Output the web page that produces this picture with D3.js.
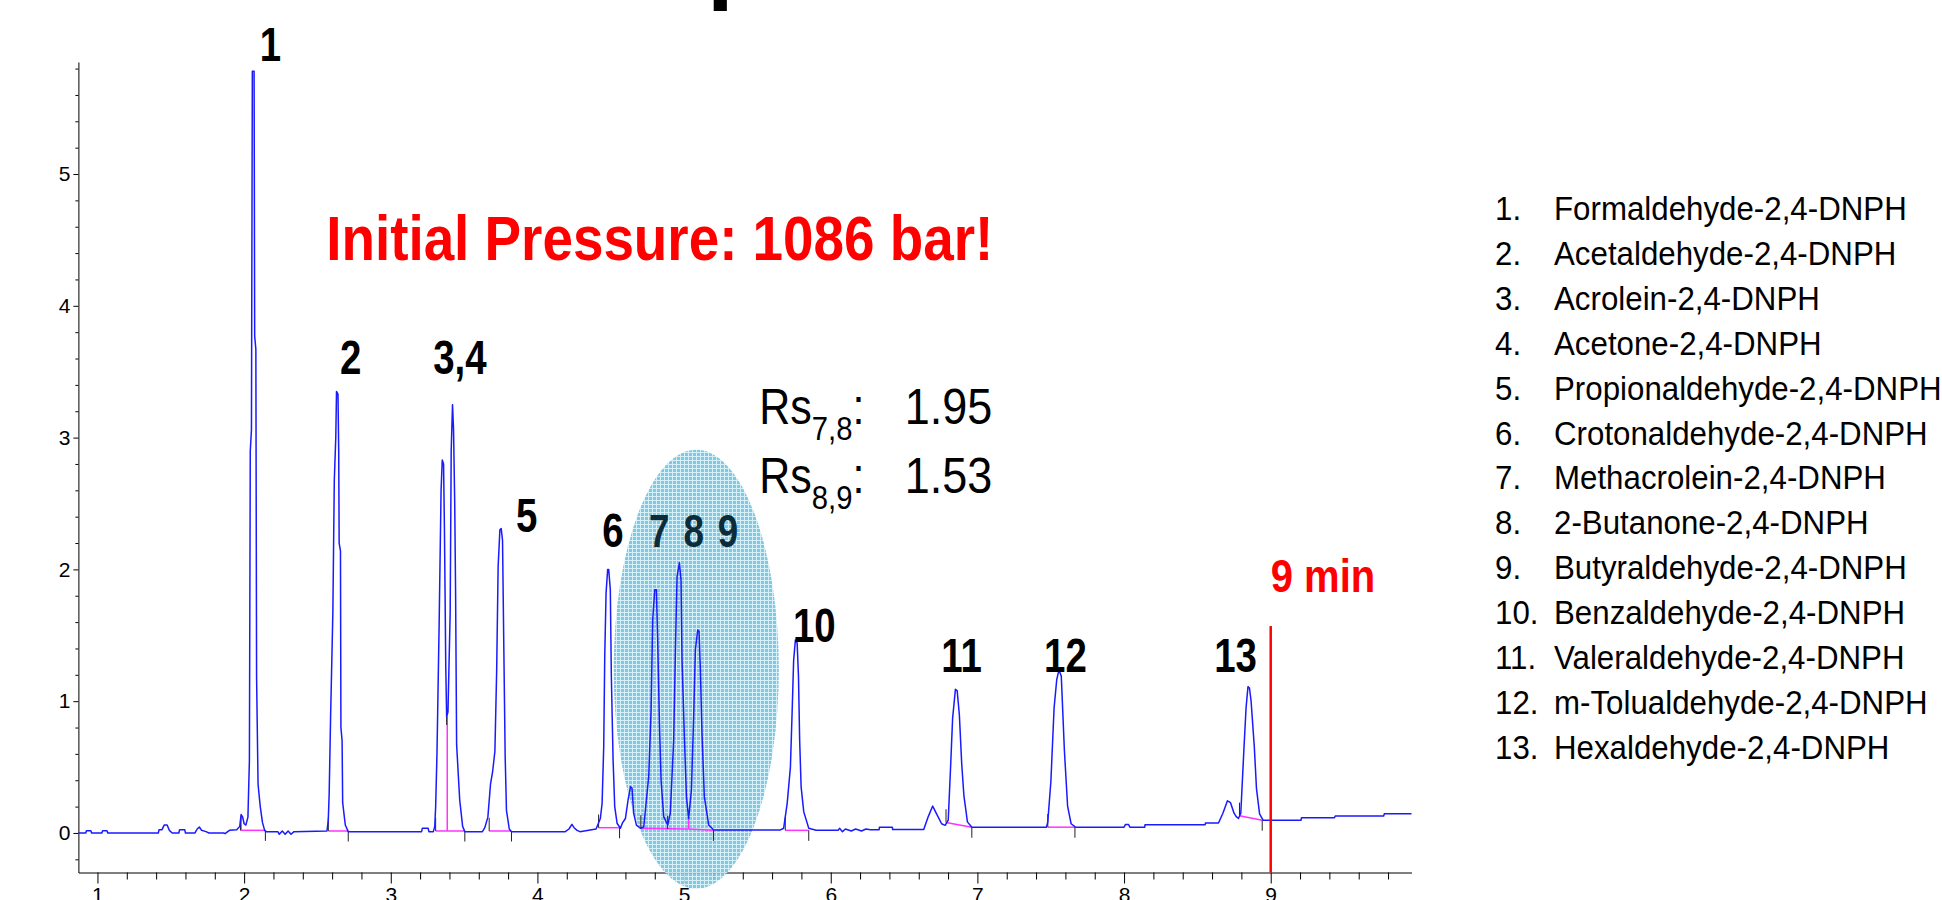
<!DOCTYPE html>
<html lang="en">
  <head>
    <meta charset="utf-8" />
    <title>DNPH chromatogram</title>
    <script type="text/javascript" src="https://d3js.org/d3.v7.min.js"></script>
    <style>
      body { margin: 0; background: #fff; }
      text { font-family: "Liberation Sans", Arial, sans-serif; }
    </style>
  </head>
  <body>
    <div id="chart"></div>

    <script type="text/javascript">
      /********************************
       * data
       ********************************/

      // detector trace: [time (min), signal]
      const trace = [
        [0.87, 0.0], [0.92, 0.0], [0.925, 0.017], [0.955, 0.017], [0.96, 0.0], [1.03, 0.0], [1.035, 0.017], [1.065, 0.017], [1.07, 0.0],
        [1.4, 0.0], [1.415, 0.0], [1.42, 0.025], [1.44, 0.025], [1.455, 0.06], [1.475, 0.06], [1.49, 0.02], [1.51, 0.0],
        [1.555, 0.0], [1.56, 0.025], [1.595, 0.025], [1.6, 0.0],
        [1.665, 0.0], [1.68, 0.03], [1.695, 0.045], [1.71, 0.02], [1.74, 0.01], [1.76, 0.0],
        [1.86, 0.0], [1.87, -0.005], [1.9, 0.02], [1.95, 0.025],
        [1.97, 0.05], [1.98, 0.14], [1.99, 0.12], [2.0, 0.07], [2.012, 0.06],
        [2.026, 0.12], [2.036, 0.55], [2.042, 2.9], [2.05, 3.06], [2.056, 5.78], [2.068, 5.78], [2.072, 3.77], [2.08, 3.67], [2.085, 1.18], [2.095, 0.37], [2.11, 0.2], [2.125, 0.08], [2.14, 0.02], [2.15, 0.01],
        [2.23, 0.01], [2.24, -0.01], [2.26, 0.015], [2.28, -0.01], [2.3, 0.015], [2.32, -0.01], [2.34, 0.01],
        [2.565, 0.015], [2.574, 0.1], [2.58, 0.3], [2.59, 0.9], [2.605, 1.67], [2.615, 2.68], [2.625, 3.0], [2.63, 3.35], [2.64, 3.33], [2.645, 2.9], [2.648, 2.2], [2.657, 2.14], [2.66, 0.8], [2.668, 0.7], [2.672, 0.23], [2.69, 0.06], [2.71, 0.01],
        [3.21, 0.01], [3.215, 0.035], [3.255, 0.035], [3.26, 0.01],
        [3.29, 0.01], [3.3, 0.05], [3.306, 0.2], [3.315, 0.6], [3.33, 1.6], [3.343, 2.6], [3.351, 2.83], [3.36, 2.8], [3.366, 2.3], [3.375, 1.26], [3.381, 0.88], [3.39, 0.92], [3.405, 1.67], [3.412, 2.9], [3.421, 3.25], [3.428, 3.06], [3.436, 2.5], [3.442, 1.82], [3.449, 0.67], [3.47, 0.25], [3.49, 0.05], [3.505, 0.01],
        [3.625, 0.01], [3.641, 0.04], [3.662, 0.12], [3.68, 0.37], [3.695, 0.47], [3.71, 0.62], [3.722, 1.23], [3.732, 2.02], [3.744, 2.3], [3.753, 2.31], [3.762, 2.22], [3.771, 1.39], [3.78, 0.58], [3.789, 0.17], [3.808, 0.03], [3.823, 0.01],
        [4.19, 0.01], [4.215, 0.03], [4.235, 0.065], [4.25, 0.04], [4.27, 0.02], [4.29, 0.01],
        [4.4, 0.03], [4.429, 0.11], [4.441, 0.225], [4.452, 0.655], [4.459, 1.34], [4.468, 1.82], [4.479, 2.0], [4.486, 2.0], [4.497, 1.845], [4.504, 1.19], [4.516, 0.55], [4.527, 0.2], [4.543, 0.074], [4.566, 0.036], [4.579, 0.074],
        [4.6, 0.11], [4.618, 0.25], [4.634, 0.35], [4.645, 0.34], [4.656, 0.15], [4.675, 0.06], [4.702, 0.036],
        [4.725, 0.045], [4.759, 0.43], [4.775, 0.93], [4.786, 1.62], [4.8, 1.845], [4.811, 1.845], [4.82, 1.465], [4.832, 0.83], [4.843, 0.4], [4.861, 0.124], [4.888, 0.06],
        [4.906, 0.15], [4.929, 0.706], [4.941, 1.39], [4.952, 1.946], [4.968, 2.05], [4.979, 1.92], [4.986, 1.31], [5.002, 0.73], [5.016, 0.276], [5.031, 0.11],
        [5.05, 0.326], [5.066, 0.91], [5.077, 1.39], [5.093, 1.54], [5.102, 1.53], [5.111, 1.24], [5.122, 0.757], [5.138, 0.276], [5.168, 0.06], [5.202, 0.023],
        [5.657, 0.023], [5.679, 0.036], [5.703, 0.225], [5.725, 0.5], [5.737, 0.93], [5.747, 1.31], [5.759, 1.465], [5.771, 1.44], [5.78, 1.19], [5.788, 0.706], [5.798, 0.35], [5.816, 0.16], [5.85, 0.036],
        [5.9, 0.02], [6.05, 0.02], [6.06, 0.035], [6.08, 0.01], [6.1, 0.03], [6.14, 0.015], [6.17, 0.03], [6.21, 0.015], [6.24, 0.03], [6.27, 0.025],
        [6.33, 0.025], [6.332, 0.044], [6.42, 0.044], [6.422, 0.026], [6.634, 0.026],
        [6.665, 0.124], [6.695, 0.204], [6.719, 0.15], [6.756, 0.07], [6.78, 0.058],
        [6.801, 0.097], [6.816, 0.47], [6.831, 0.87], [6.85, 1.09], [6.862, 1.08], [6.877, 0.897], [6.893, 0.524], [6.908, 0.284], [6.932, 0.084], [6.962, 0.044],
        [7.471, 0.044], [7.48, 0.084], [7.501, 0.39], [7.523, 0.95], [7.541, 1.163], [7.553, 1.222], [7.562, 1.22], [7.572, 1.19], [7.593, 0.63], [7.615, 0.204], [7.639, 0.07], [7.669, 0.044],
        [8.0, 0.044], [8.01, 0.065], [8.03, 0.065], [8.04, 0.044], [8.141, 0.044], [8.143, 0.063], [8.553, 0.063], [8.555, 0.076], [8.644, 0.076],
        [8.674, 0.15], [8.705, 0.244], [8.726, 0.23], [8.75, 0.15], [8.765, 0.124], [8.78, 0.11],
        [8.796, 0.15], [8.817, 0.63], [8.832, 0.95], [8.845, 1.11], [8.855, 1.1], [8.866, 1.003], [8.888, 0.657], [8.903, 0.337], [8.924, 0.145], [8.948, 0.097],
        [9.207, 0.097], [9.21, 0.116], [9.435, 0.116], [9.44, 0.129], [9.77, 0.129], [9.775, 0.145], [9.96, 0.145],
      ];

      // integration baselines (magenta): [t0, v0, t1, v1]
      const baselines = [
        [1.975, 0.02, 2.145, 0.02],
        [1.98, 0.02, 1.98, 0.14],
        [2.574, 0.015, 2.71, 0.015],
        [3.306, 0.015, 3.505, 0.015],
        [3.385, 0.015, 3.385, 0.88],
        [3.671, 0.015, 3.823, 0.015],
        [4.417, 0.04, 4.56, 0.04],
        [4.705, 0.035, 5.031, 0.03],
        [5.031, 0.03, 5.2, 0.02],
        [5.031, 0.03, 5.031, 0.11],
        [5.69, 0.02, 5.85, 0.02],
        [6.786, 0.08, 6.962, 0.044],
        [7.48, 0.044, 7.665, 0.044],
        [8.787, 0.13, 8.942, 0.097],
      ];

      // peak start / end markers: [time, signal]
      const peakStarts = [[1.975, 0.02], [2.574, 0.015], [3.306, 0.015], [3.381, 0.82], [3.671, 0.015], [4.417, 0.04], [4.705, 0.035], [4.888, 0.03], [5.69, 0.02], [6.786, 0.08], [7.48, 0.044], [8.787, 0.13]];
      const peakEnds = [[2.145, 0.02], [2.71, 0.015], [3.505, 0.015], [3.823, 0.015], [4.56, 0.04], [5.2, 0.02], [5.85, 0.02], [6.962, 0.044], [7.665, 0.044], [8.942, 0.097]];

      // peak numbers: [label, time, signal]
      const peakLabels = [
        ["1", 2.18, 5.86], ["2", 2.727, 3.485], ["3,4", 3.471, 3.485], ["5", 3.927, 2.28],
        ["6", 4.515, 2.17], ["10", 5.888, 1.45], ["11", 6.892, 1.22], ["12", 7.6, 1.22], ["13", 8.76, 1.22],
      ];
      const circledLabels = [["7", 4.83, 2.17], ["8", 5.066, 2.17], ["9", 5.3, 2.17]];

      const compounds = [
        "Formaldehyde-2,4-DNPH", "Acetaldehyde-2,4-DNPH", "Acrolein-2,4-DNPH", "Acetone-2,4-DNPH",
        "Propionaldehyde-2,4-DNPH", "Crotonaldehyde-2,4-DNPH", "Methacrolein-2,4-DNPH", "2-Butanone-2,4-DNPH",
        "Butyraldehyde-2,4-DNPH", "Benzaldehyde-2,4-DNPH", "Valeraldehyde-2,4-DNPH", "m-Tolualdehyde-2,4-DNPH",
        "Hexaldehyde-2,4-DNPH",
      ];

      const resolutions = [["7,8", "1.95"], ["8,9", "1.53"]];
      const xTicks = [1, 2, 3, 4, 5, 6, 7, 8, 9];
      const yTicks = [0, 1, 2, 3, 4, 5];
      const stopTime = 9;
      const stopTop = 1.57;

      /***************************
       * create svg
       **************************/

      const width = 1942;
      const height = 900;

      const svg = d3
        .select("div#chart")
        .append("svg")
        .attr("width", width)
        .attr("height", height);

      // grid pattern for the highlighted 7/8/9 region
      const defs = svg.append("defs");
      const pat = defs
        .append("pattern")
        .attr("id", "grid")
        .attr("width", 4)
        .attr("height", 4)
        .attr("patternUnits", "userSpaceOnUse");
      pat.append("rect").attr("width", 4).attr("height", 4).attr("fill", "#72c3df");
      pat.append("path").attr("d", "M0,0.5H4M0.5,0V4").attr("stroke", "#d2eef7").attr("stroke-width", 1);

      /****************************
       * scale
       *************************/

      const xScale = d3.scaleLinear().domain([0.87, 9.96]).range([78.4, 1411.5]);
      const yScale = d3.scaleLinear().domain([-0.3, 5.85]).range([872.5, 62]);

      /*********************************
       * create Axes
       *******************************/

      const minorX = d3.range(5, 50).map((i) => i / 5).filter((d) => d % 1 !== 0);
      const minorY = d3.range(-1, 30).map((i) => i / 5).filter((d) => d % 1 !== 0);

      svg
        .append("g")
        .attr("transform", `translate(0,${yScale(-0.3)})`)
        .call(d3.axisBottom(xScale).tickValues(minorX).tickSize(7).tickFormat(""))
        .call((g) => g.select(".domain").remove());

      svg
        .append("g")
        .attr("class", "x axis")
        .attr("transform", `translate(0,${yScale(-0.3)})`)
        .call(d3.axisBottom(xScale).tickValues(xTicks).tickSize(11).tickSizeOuter(0).tickPadding(4).tickFormat(d3.format("d")))
        .call((g) => g.selectAll("text").attr("font-size", 21).attr("font-family", "Liberation Sans, Arial, sans-serif"));

      svg
        .append("g")
        .attr("transform", `translate(${xScale(0.87)},0)`)
        .call(d3.axisLeft(yScale).tickValues(minorY).tickSize(3).tickFormat(""))
        .call((g) => g.select(".domain").remove());

      svg
        .append("g")
        .attr("class", "y axis")
        .attr("transform", `translate(${xScale(0.87)},0)`)
        .call(d3.axisLeft(yScale).tickValues(yTicks).tickSize(5).tickSizeOuter(0).tickPadding(3).tickFormat(d3.format("d")))
        .call((g) => g.selectAll("text").attr("font-size", 21).attr("font-family", "Liberation Sans, Arial, sans-serif"));

      /*********************************
       * highlight ellipse
       *******************************/

      svg
        .append("ellipse")
        .attr("cx", xScale(5.083))
        .attr("cy", yScale(1.242))
        .attr("rx", xScale(5.083 + 0.563) - xScale(5.083))
        .attr("ry", yScale(1.242) - yScale(1.242 + 1.665))
        .attr("fill", "url(#grid)")
        .attr("opacity", 0.9);

      /********************************
       * integration marks
       * *******************************/

      svg
        .append("g")
        .selectAll("line")
        .data(baselines)
        .enter()
        .append("line")
        .attr("x1", (d) => xScale(d[0]))
        .attr("y1", (d) => yScale(d[1]))
        .attr("x2", (d) => xScale(d[2]))
        .attr("y2", (d) => yScale(d[3]))
        .attr("stroke", "#ff33ff")
        .attr("stroke-width", 1.5);

      svg
        .append("g")
        .selectAll("line")
        .data(peakStarts)
        .enter()
        .append("line")
        .attr("x1", (d) => xScale(d[0]))
        .attr("x2", (d) => xScale(d[0]))
        .attr("y1", (d) => yScale(d[1]))
        .attr("y2", (d) => yScale(d[1] + 0.1))
        .attr("stroke", "#222")
        .attr("stroke-width", 1);

      svg
        .append("g")
        .selectAll("line")
        .data(peakEnds)
        .enter()
        .append("line")
        .attr("x1", (d) => xScale(d[0]))
        .attr("x2", (d) => xScale(d[0]))
        .attr("y1", (d) => yScale(d[1]))
        .attr("y2", (d) => yScale(d[1] - 0.08))
        .attr("stroke", "#222")
        .attr("stroke-width", 1);

      /********************************
       * chromatogram
       * *******************************/

      const line = d3
        .line()
        .x((d) => xScale(d[0]))
        .y((d) => yScale(d[1]));

      svg
        .append("path")
        .datum(trace)
        .attr("d", line)
        .attr("fill", "none")
        .attr("stroke", "#1a1aff")
        .attr("stroke-width", 1.5)
        .attr("stroke-linejoin", "round");

      // end of run marker
      svg
        .append("line")
        .attr("x1", xScale(stopTime))
        .attr("x2", xScale(stopTime))
        .attr("y1", yScale(stopTop))
        .attr("y2", yScale(-0.3))
        .attr("stroke", "#ff0000")
        .attr("stroke-width", 2.5);

      /********************************
       * labels
       * *******************************/

      // condensed text: squeeze horizontally around its anchor
      function squeeze(sel, x, y, sx) {
        return sel.attr("transform", `translate(${x},${y}) scale(${sx},1)`);
      }

      peakLabels.forEach(([t, px, py]) => {
        svg
          .append("text")
          .text(t)
          .attr("text-anchor", "middle")
          .attr("font-size", 48)
          .attr("font-weight", "bold")
          .attr("fill", "#000")
          .call(squeeze, xScale(px), yScale(py), 0.8);
      });

      circledLabels.forEach(([t, px, py]) => {
        svg
          .append("text")
          .text(t)
          .attr("text-anchor", "middle")
          .attr("font-size", 46)
          .attr("font-weight", "bold")
          .attr("fill", "#0c2c3a")
          .call(squeeze, xScale(px), yScale(py), 0.8);
      });

      svg
        .append("text")
        .text("9 min")
        .attr("font-size", 46)
        .attr("font-weight", "bold")
        .attr("fill", "#ff0000")
        .call(squeeze, xScale(stopTime), yScale(1.83), 0.87);

      svg
        .append("text")
        .text("Initial Pressure: 1086 bar!")
        .attr("font-size", 63)
        .attr("font-weight", "bold")
        .attr("fill", "#ff0000")
        .call(squeeze, xScale(2.56), yScale(4.35), 0.87);

      // cut-off glyph of the heading above the plot
      svg
        .append("text")
        .text("p")
        .attr("font-size", 96)
        .attr("font-weight", "bold")
        .attr("fill", "#000")
        .attr("x", 707)
        .attr("y", -9);

      // resolution values
      resolutions.forEach(([pair, val], i) => {
        const base = yScale([3.105, 2.58][i]);
        const rs = svg
          .append("text")
          .attr("font-size", 50)
          .attr("fill", "#000")
          .call(squeeze, xScale(5.513), base, 0.86);
        rs.append("tspan").text("Rs");
        rs.append("tspan").attr("font-size", 34).attr("dy", 16).text(pair);
        rs.append("tspan").attr("dy", -16).text(":");

        svg
          .append("text")
          .text(val)
          .attr("font-size", 50)
          .attr("fill", "#000")
          .call(squeeze, xScale(6.504), base, 0.9);
      });

      /********************************
       * compound list
       * *******************************/

      const legend = svg.append("g").attr("transform", "translate(1495,220)");

      compounds.forEach((name, i) => {
        legend
          .append("text")
          .text(`${i + 1}.`)
          .attr("font-size", 34)
          .attr("fill", "#000")
          .call(squeeze, 0, i * 44.9, 0.92);
        legend
          .append("text")
          .text(name)
          .attr("font-size", 34)
          .attr("fill", "#000")
          .call(squeeze, 59, i * 44.9, 0.92);
      });
    </script>
  </body>
</html>
